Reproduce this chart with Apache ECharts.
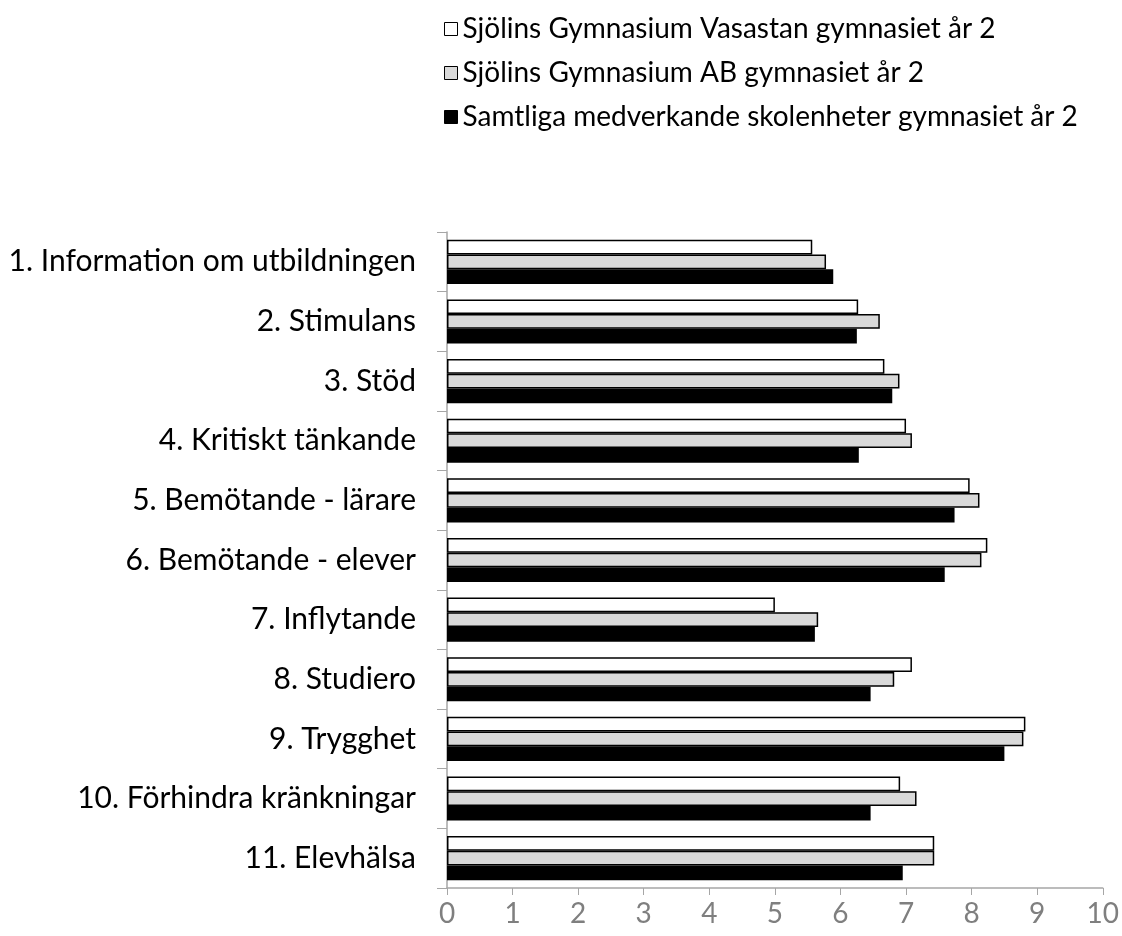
<!DOCTYPE html>
<html>
<head>
<meta charset="utf-8">
<script src="https://cdn.jsdelivr.net/npm/echarts@6/dist/echarts.min.js"></script>
<style>
html, body { margin: 0; padding: 0; background: #fff; }
#con { width: 1122px; height: 936px; }
</style>
</head>
<body>
<div id="con"></div>
<script>
var categories = ['1. Information om utbildningen', '2. Stimulans', '3. Stöd',
    '4. Kritiskt tänkande', '5. Bemötande - lärare', '6. Bemötande - elever',
    '7. Inflytande', '8. Studiero', '9. Trygghet', '10. Förhindra kränkningar',
    '11. Elevhälsa'];
var seriesNames = ['Sjölins Gymnasium Vasastan gymnasiet år 2',
    'Sjölins Gymnasium AB gymnasiet år 2',
    'Samtliga medverkande skolenheter gymnasiet år 2'];
var vasastan = [5.57, 6.27, 6.67, 7.00, 7.97, 8.24, 5.00, 7.09, 8.82, 6.91, 7.43];
var sjolinsAB = [5.78, 6.60, 6.90, 7.09, 8.12, 8.15, 5.66, 6.82, 8.79, 7.16, 7.43];
var samtliga = [5.89, 6.25, 6.79, 6.28, 7.74, 7.59, 5.61, 6.46, 8.50, 6.46, 6.95];
var xTicks = [0, 1, 2, 3, 4, 5, 6, 7, 8, 9, 10];

var fillColors = ['#ffffff', '#d9d9d9', '#000000'];
var values = [vasastan, sjolinsAB, samtliga];

var font = 'Lato, "Open Sans", sans-serif';
var myChart = echarts.init(document.getElementById('con'), null, {renderer: 'canvas'});

var series = [];
for (var i = 0; i < values.length; i++) {
    series.push({
        name: seriesNames[i],
        type: 'bar',
        data: values[i],
        barGap: '0%',
        barCategoryGap: '26%',
        itemStyle: {
            color: fillColors[i],
            borderColor: '#000',
            borderWidth: i < 2 ? 1.5 : 0
        },
        emphasis: { disabled: true }
    });
}

var option = {
    animation: false,
    legend: {
        orient: 'vertical',
        left: 439,
        top: 10,
        itemWidth: 13,
        itemHeight: 13,
        itemGap: 16,
        icon: 'rect',
        textStyle: { fontFamily: font, fontSize: 28, lineHeight: 28, color: '#000' },
        data: seriesNames.map(function (n, i) {
            return {
                name: n,
                itemStyle: { color: fillColors[i], borderColor: '#000', borderWidth: 1 }
            };
        })
    },
    grid: { left: 447, right: 16, top: 232, bottom: 48, containLabel: false },
    xAxis: {
        type: 'value',
        min: xTicks[0],
        max: xTicks[xTicks.length - 1],
        interval: 1,
        axisLine: { show: true, lineStyle: { color: '#a6a6a6', width: 1.5 } },
        axisTick: { show: true, length: 7, lineStyle: { color: '#a6a6a6' } },
        splitLine: { show: false },
        axisLabel: { fontFamily: font, fontSize: 28, color: '#7f7f7f', margin: 12 }
    },
    yAxis: {
        type: 'category',
        inverse: true,
        data: categories,
        axisLine: { show: true, lineStyle: { color: '#a6a6a6', width: 1.5 } },
        axisTick: { show: true, length: 10, lineStyle: { color: '#a6a6a6' } },
        axisLabel: { fontFamily: font, fontSize: 30, color: '#000', margin: 31 }
    },
    series: series
};
myChart.setOption(option);
</script>
</body>
</html>
